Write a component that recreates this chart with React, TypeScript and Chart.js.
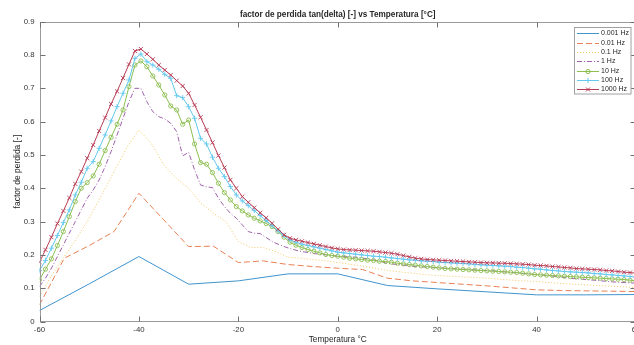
import React, { useEffect, useRef } from "react";
import { Chart, registerables } from "chart.js";

Chart.register(...registerables);

// ---------------- data ----------------
const chartTitle = "factor de perdida tan(delta) [-] vs Temperatura [°C]";
const xAxisTitle = "Temperatura °C";
const yAxisTitle = "factor de perdida [-]";

const xTickValues = [-60, -40, -20, 0, 20, 40, 60];
const yTickValues = [0, 0.1, 0.2, 0.3, 0.4, 0.5, 0.6, 0.7, 0.8, 0.9];

const seriesLabels = ["0.001 Hz", "0.01 Hz", "0.1 Hz", "1 Hz", "10 Hz", "100 Hz", "1000 Hz"];

// temperature grids (°C)
const tempFine = [
  -60, -58.8, -57.6, -56.4, -55.2, -54, -52.8, -51.6, -50.4, -49.2,
  -48, -46.8, -45.6, -44.4, -43.2, -42, -40.8, -39.6, -38.4, -37.2,
  -36, -34.8, -33.6, -32.4, -31.2, -30, -28.8, -27.6, -26.4, -25.2,
  -24, -22.8, -21.6, -20.4, -19.2, -18, -16.8, -15.6, -14.4, -13.2,
  -12, -10.8, -9.6, -8.4, -7.2, -6, -4.8, -3.6, -2.4, -1.2,
  0, 1.2, 2.4, 3.6, 4.8, 6, 7.2, 8.4, 9.6, 10.8,
  12, 13.2, 14.4, 15.6, 16.8, 18, 19.2, 20.4, 21.6, 22.8,
  24, 25.2, 26.4, 27.6, 28.8, 30, 31.2, 32.4, 33.6, 34.8,
  36, 37.2, 38.4, 39.6, 40.8, 42, 43.2, 44.4, 45.6, 46.8,
  48, 49.2, 50.4, 51.6, 52.8, 54, 55.2, 56.4, 57.6, 58.8, 60,
];
const temp2p5 = [
  -60, -57.5, -55, -52.5, -50, -47.5, -45, -42.5, -40, -37.5,
  -35, -32.5, -30, -27.5, -25, -22.5, -20, -17.5, -15, -12.5,
  -10, -7.5, -5, -2.5, 0, 2.5, 5, 7.5, 10, 12.5,
  15, 17.5, 20, 22.5, 25, 27.5, 30, 32.5, 35, 37.5,
  40, 42.5, 45, 47.5, 50, 52.5, 55, 57.5, 60,
];
const temp5 = [-60, -55, -50, -45, -40, -35, -30, -25, -20, -15, -10, -5, 0, 5, 10, 15, 20, 25, 30, 35, 40, 45, 50, 55, 60];
const temp10 = [-60, -50, -40, -30, -20, -10, 0, 10, 20, 30, 40, 50, 60];

const tan0001Hz = [0.033, 0.113, 0.195, 0.112, 0.122, 0.143, 0.143, 0.108, 0.098, 0.089, 0.080, 0.080, 0.081];

const tan001Hz = [
  0.05, 0.19, 0.228, 0.27, 0.385, 0.305, 0.225, 0.226, 0.177, 0.182,
  0.171, 0.165, 0.160, 0.156, 0.130, 0.122, 0.117, 0.112, 0.107, 0.101,
  0.095, 0.093, 0.092, 0.091, 0.090,
];

const tan01Hz = [
  0.075, 0.14, 0.195, 0.25, 0.31, 0.38, 0.45, 0.52, 0.575, 0.535,
  0.47, 0.43, 0.40, 0.355, 0.325, 0.30, 0.24, 0.222, 0.222, 0.21,
  0.193, 0.19, 0.186, 0.182, 0.177, 0.172, 0.166, 0.16, 0.153, 0.149,
  0.145, 0.141, 0.138, 0.136, 0.134, 0.132, 0.13, 0.127, 0.124, 0.122,
  0.12, 0.117, 0.114, 0.112, 0.11, 0.108, 0.106, 0.104, 0.102,
];

const tan1Hz = [
  0.105, 0.130, 0.160, 0.195, 0.230, 0.265, 0.300, 0.335, 0.370, 0.395,
  0.425, 0.465, 0.510, 0.560, 0.610, 0.660, 0.700, 0.700, 0.660, 0.630,
  0.615, 0.608, 0.595, 0.570, 0.497, 0.508, 0.455, 0.410, 0.404, 0.402,
  0.370, 0.345, 0.325, 0.310, 0.290, 0.270, 0.265, 0.264, 0.252, 0.240,
  0.232, 0.225, 0.219, 0.214, 0.210, 0.207, 0.204, 0.202, 0.200, 0.198,
  0.196, 0.195, 0.194, 0.193, 0.191, 0.188, 0.185, 0.181, 0.176, 0.173,
  0.171, 0.169, 0.167, 0.165, 0.164, 0.163, 0.162, 0.161, 0.160, 0.159,
  0.158, 0.157, 0.156, 0.155, 0.154, 0.153, 0.152, 0.150, 0.149, 0.147,
  0.146, 0.144, 0.143, 0.141, 0.140, 0.138, 0.136, 0.134, 0.132, 0.130,
  0.128, 0.127, 0.125, 0.124, 0.122, 0.121, 0.119, 0.118, 0.117, 0.116, 0.115,
];

const tan10Hz = [
  0.125, 0.157, 0.188, 0.228, 0.270, 0.315, 0.360, 0.400, 0.417, 0.437,
  0.472, 0.513, 0.553, 0.592, 0.635, 0.705, 0.770, 0.782, 0.765, 0.737,
  0.710, 0.680, 0.647, 0.635, 0.592, 0.605, 0.533, 0.477, 0.472, 0.447,
  0.415, 0.387, 0.365, 0.345, 0.332, 0.320, 0.310, 0.302, 0.294, 0.285,
  0.270, 0.253, 0.238, 0.229, 0.222, 0.216, 0.211, 0.206, 0.201, 0.198,
  0.196, 0.193, 0.190, 0.188, 0.186, 0.184, 0.183, 0.181, 0.180, 0.178,
  0.175, 0.173, 0.171, 0.169, 0.167, 0.165, 0.163, 0.161, 0.159, 0.158,
  0.157, 0.156, 0.155, 0.154, 0.153, 0.152, 0.151, 0.150, 0.149, 0.148,
  0.147, 0.145, 0.143, 0.141, 0.140, 0.139, 0.138, 0.137, 0.136, 0.135,
  0.134, 0.133, 0.132, 0.131, 0.130, 0.129, 0.128, 0.127, 0.126, 0.124, 0.122,
];

const tan100Hz = [
  0.153, 0.183, 0.220, 0.258, 0.297, 0.335, 0.380, 0.418, 0.460, 0.480,
  0.520, 0.560, 0.602, 0.645, 0.685, 0.725, 0.790, 0.803, 0.780, 0.770,
  0.757, 0.742, 0.730, 0.678, 0.672, 0.645, 0.610, 0.550, 0.533, 0.493,
  0.460, 0.435, 0.405, 0.380, 0.362, 0.348, 0.333, 0.318, 0.303, 0.288,
  0.272, 0.258, 0.245, 0.238, 0.232, 0.228, 0.224, 0.220, 0.216, 0.212,
  0.208, 0.206, 0.204, 0.202, 0.200, 0.198, 0.196, 0.195, 0.193, 0.191,
  0.189, 0.187, 0.185, 0.184, 0.182, 0.181, 0.180, 0.178, 0.177, 0.176,
  0.175, 0.174, 0.173, 0.171, 0.170, 0.169, 0.168, 0.167, 0.166, 0.165,
  0.163, 0.162, 0.160, 0.158, 0.157, 0.155, 0.153, 0.152, 0.150, 0.149,
  0.148, 0.147, 0.146, 0.144, 0.143, 0.141, 0.140, 0.138, 0.137, 0.135, 0.133,
];

const tan1000Hz = [
  0.178, 0.215, 0.253, 0.294, 0.332, 0.371, 0.413, 0.450, 0.490, 0.530,
  0.572, 0.612, 0.653, 0.691, 0.731, 0.772, 0.812, 0.818, 0.803, 0.787,
  0.770, 0.755, 0.740, 0.723, 0.707, 0.685, 0.650, 0.613, 0.575, 0.537,
  0.498, 0.462, 0.425, 0.400, 0.375, 0.358, 0.342, 0.326, 0.311, 0.295,
  0.277, 0.260, 0.250, 0.245, 0.241, 0.237, 0.233, 0.229, 0.225, 0.221,
  0.218, 0.216, 0.215, 0.214, 0.213, 0.212, 0.211, 0.209, 0.207, 0.205,
  0.202, 0.198, 0.194, 0.190, 0.188, 0.186, 0.185, 0.184, 0.183, 0.182,
  0.181, 0.180, 0.179, 0.178, 0.177, 0.176, 0.176, 0.175, 0.175, 0.174,
  0.173, 0.172, 0.171, 0.169, 0.168, 0.167, 0.165, 0.164, 0.162, 0.161,
  0.159, 0.158, 0.157, 0.156, 0.155, 0.153, 0.152, 0.150, 0.148, 0.147, 0.145,
];

// ---------------- styles ----------------
const FONT = '"Liberation Sans", Arial, Helvetica, sans-serif';
const CANVAS_W = 650;
const CANVAS_H = 345;

type Marker = "none" | "circle" | "plus" | "x";
const seriesStyles: { color: string; dash: number[]; marker: Marker }[] = [
  { color: "rgb(64,148,206)", dash: [], marker: "none" },
  { color: "rgb(232,128,84)", dash: [6, 3], marker: "none" },
  { color: "rgb(242,200,100)", dash: [1, 2], marker: "none" },
  { color: "rgb(160,98,172)", dash: [5, 2, 1, 2], marker: "none" },
  { color: "rgb(140,190,80)", dash: [], marker: "circle" },
  { color: "rgb(100,200,240)", dash: [], marker: "plus" },
  { color: "rgb(185,60,85)", dash: [], marker: "x" },
];

const seriesX = [temp10, temp5, temp2p5, tempFine, tempFine, tempFine, tempFine];
const seriesY = [tan0001Hz, tan001Hz, tan01Hz, tan1Hz, tan10Hz, tan100Hz, tan1000Hz];

function drawMarker(ctx: CanvasRenderingContext2D, m: Marker, x: number, y: number) {
  ctx.beginPath();
  if (m === "circle") {
    ctx.arc(x, y, 2.1, 0, Math.PI * 2);
  } else if (m === "plus") {
    ctx.moveTo(x - 2.6, y);
    ctx.lineTo(x + 2.6, y);
    ctx.moveTo(x, y - 2.6);
    ctx.lineTo(x, y + 2.6);
  } else if (m === "x") {
    ctx.moveTo(x - 2, y - 2);
    ctx.lineTo(x + 2, y + 2);
    ctx.moveTo(x - 2, y + 2);
    ctx.lineTo(x + 2, y - 2);
  }
  ctx.stroke();
}

const frameplugin = {
  id: "matlabFrame",
  afterDraw(chart: any) {
    const { ctx, chartArea } = chart;
    const xs = chart.scales.x;
    const ys = chart.scales.y;
    const L = Math.round(chartArea.left) + 0.5;
    const R = Math.round(chartArea.right) - 0.5;
    const T = Math.round(chartArea.top) + 0.5;
    const B = Math.round(chartArea.bottom) - 0.5;
    ctx.save();
    ctx.setLineDash([]);
    // box
    ctx.strokeStyle = "#9a9a9a";
    ctx.lineWidth = 1;
    ctx.strokeRect(L, T, R - L, B - T);
    // ticks (inside, on all four sides)
    ctx.strokeStyle = "#707070";
    const tl = 5;
    ctx.beginPath();
    for (const v of xTickValues) {
      const px = Math.round(xs.getPixelForValue(v)) + 0.5;
      ctx.moveTo(px, B);
      ctx.lineTo(px, B - tl);
      ctx.moveTo(px, T);
      ctx.lineTo(px, T + tl);
    }
    for (const v of yTickValues) {
      const py = Math.round(ys.getPixelForValue(v)) + 0.5;
      ctx.moveTo(L, py);
      ctx.lineTo(L + tl, py);
      ctx.moveTo(R, py);
      ctx.lineTo(R - tl, py);
    }
    ctx.stroke();

    // title
    ctx.fillStyle = "#262626";
    ctx.font = `bold 8.2px ${FONT}`;
    ctx.textAlign = "center";
    ctx.textBaseline = "middle";
    ctx.fillText(chartTitle, (chartArea.left + chartArea.right) / 2, 15);

    // legend
    const bx = 574.5, by = 27.5, bw = 56.5, bh = 66.5;
    ctx.fillStyle = "#ffffff";
    ctx.fillRect(bx, by, bw, bh);
    ctx.strokeStyle = "#a0a0a0";
    ctx.strokeRect(bx, by, bw, bh);
    ctx.font = `7px ${FONT}`;
    ctx.textAlign = "left";
    ctx.textBaseline = "middle";
    seriesLabels.forEach((lab, i) => {
      const st = seriesStyles[i];
      const y = Math.round(33.3 + i * 9.33) + 0.5;
      ctx.strokeStyle = st.color;
      ctx.lineWidth = 1;
      ctx.setLineDash(st.dash);
      ctx.beginPath();
      ctx.moveTo(577, y);
      ctx.lineTo(599, y);
      ctx.stroke();
      ctx.setLineDash([]);
      if (st.marker !== "none") drawMarker(ctx, st.marker, 588, y);
      ctx.fillStyle = "#262626";
      ctx.fillText(lab, 601, y);
    });
    ctx.restore();
  },
};

export default function App() {
  const canvasRef = useRef<HTMLCanvasElement>(null);

  useEffect(() => {
    const canvas = canvasRef.current;
    if (!canvas) return;

    const datasets = seriesLabels.map((label, i) => {
      const st = seriesStyles[i];
      const hasMarker = st.marker !== "none";
      const pointStyle = st.marker === "circle" ? "circle" : st.marker === "plus" ? "cross" : st.marker === "x" ? "crossRot" : "circle";
      return {
        label,
        data: seriesX[i].map((x, k) => ({ x, y: seriesY[i][k] })),
        borderColor: st.color,
        backgroundColor: st.color,
        borderWidth: 1,
        borderDash: st.dash,
        tension: 0,
        fill: false,
        pointStyle,
        pointRadius: hasMarker ? (st.marker === "circle" ? 2.1 : st.marker === "plus" ? 2.6 : 2.9) : 0,
        pointBorderWidth: 0.9,
        pointBorderColor: st.color,
        pointBackgroundColor: "rgba(0,0,0,0)",
        order: seriesLabels.length - i,
      };
    });

    const chart = new Chart(canvas, {
      type: "line",
      data: { datasets },
      plugins: [frameplugin],
      options: {
        animation: false,
        responsive: false,
        devicePixelRatio: 1,
        events: [],
        layout: { padding: { left: 0, top: 21.7, right: CANVAS_W - 636, bottom: 0 } },
        plugins: {
          legend: { display: false },
          title: { display: false },
          tooltip: { enabled: false },
        },
        scales: {
          x: {
            type: "linear",
            min: -60,
            max: 60,
            afterBuildTicks: (s: any) => {
              s.ticks = xTickValues.map((v) => ({ value: v }));
            },
            afterFit: (s: any) => {
              s.height = CANVAS_H - 321.5;
              s.paddingLeft = 0;
              s.paddingRight = 0;
            },
            ticks: {
              autoSkip: false,
              maxRotation: 0,
              padding: 4,
              color: "#333333",
              font: { family: FONT, size: 7.8 },
              callback: (v: any) => String(v),
            },
            grid: { display: false, drawTicks: false },
            border: { display: false },
            title: {
              display: true,
              text: xAxisTitle,
              color: "#262626",
              font: { family: FONT, size: 8.3 },
              padding: { top: 0, bottom: 0 },
            },
          },
          y: {
            type: "linear",
            min: 0,
            max: 0.9,
            afterBuildTicks: (s: any) => {
              s.ticks = yTickValues.map((v) => ({ value: v }));
            },
            afterFit: (s: any) => {
              s.width = 39.5;
              s.paddingTop = 0;
              s.paddingBottom = 0;
            },
            ticks: {
              autoSkip: false,
              padding: 5,
              color: "#333333",
              font: { family: FONT, size: 7.8 },
              callback: (v: any) => String(v),
            },
            grid: { display: false, drawTicks: false },
            border: { display: false },
            title: {
              display: true,
              text: yAxisTitle,
              color: "#262626",
              font: { family: FONT, size: 8.5 },
              padding: { top: 13, bottom: 0 },
            },
          },
        },
      },
    } as any);

    return () => chart.destroy();
  }, []);

  return (
    <div
      style={{
        position: "fixed",
        left: 0,
        top: 0,
        width: 634,
        height: 345,
        overflow: "hidden",
        background: "#ffffff",
      }}
    >
      <canvas
        ref={canvasRef}
        width={CANVAS_W}
        height={CANVAS_H}
        style={{ display: "block", width: CANVAS_W, height: CANVAS_H }}
      />
    </div>
  );
}
